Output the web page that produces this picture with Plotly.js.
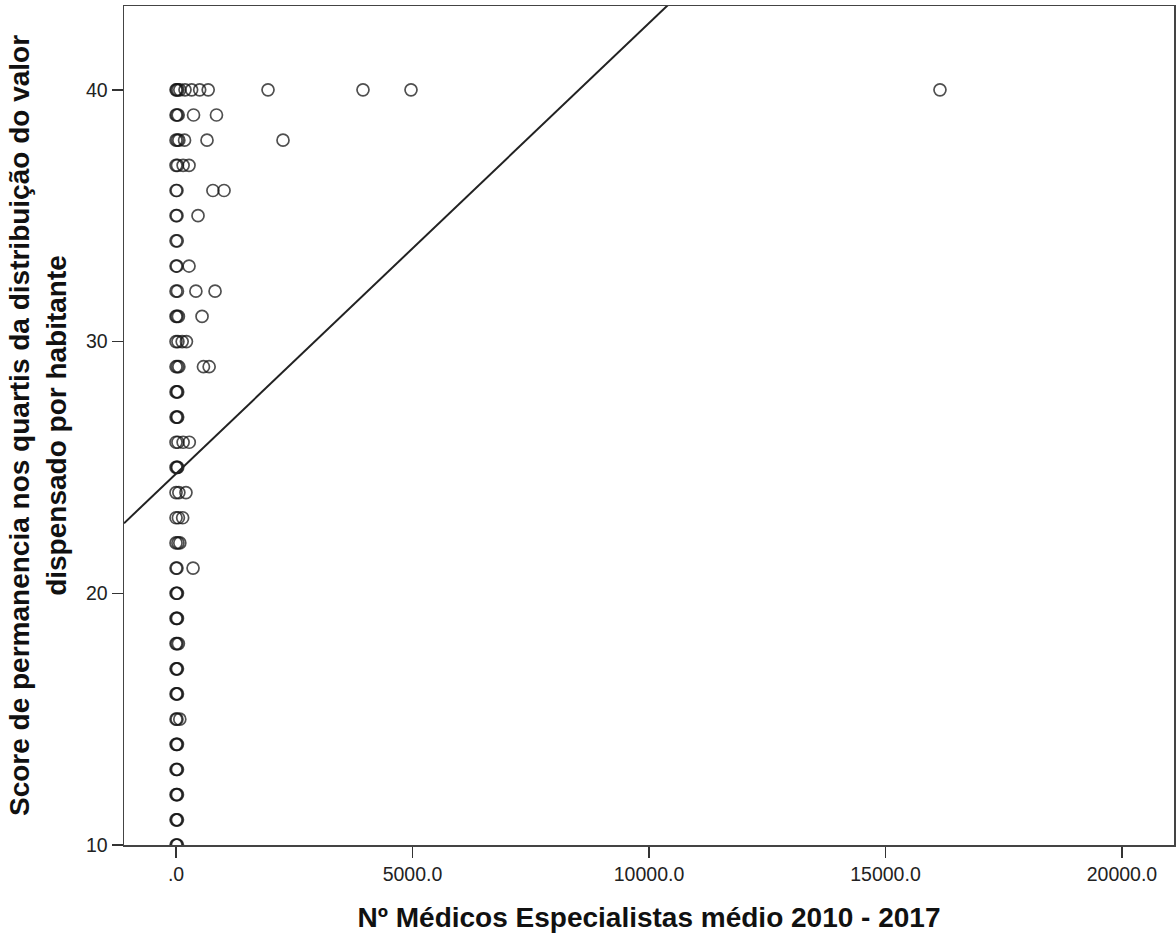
<!DOCTYPE html>
<html>
<head>
<meta charset="utf-8">
<script src="https://cdn.plot.ly/plotly-3.0.1.min.js"></script>
<style>html,body{margin:0;padding:0;background:#fff;}#chart{width:1176px;height:935px;}</style>
</head>
<body>
<div id="chart"></div>
<script>
// Nº Médicos Especialistas médio 2010 - 2017 (x) vs score (y)
const medicos = [
  // 40
  0, 15, 40, 80, 190, 330, 500, 680, 1945, 3953, 4968, 16152,
  // 39
  0, 20, 45, 370, 855,
  // 38
  0, 30, 60, 180, 655, 2262,
  // 37
  0, 30, 150, 275,
  // 36
  0, 20, 780, 1015,
  // 35
  0, 20, 465,
  // 34
  0, 25,
  // 33
  0, 20, 275,
  // 32
  0, 30, 420, 825,
  // 31
  0, 20, 50, 550,
  // 30
  0, 40, 130, 220,
  // 29
  0, 30, 60, 580, 700,
  // 28
  0, 20, 35,
  // 27
  0, 20, 35,
  // 26
  0, 40, 150, 280,
  // 25
  0, 20, 35,
  // 24
  0, 60, 210,
  // 23
  0, 50, 140,
  // 22
  0, 40, 80,
  // 21
  0, 20, 360,
  // 20 .. 10
  0, 15, 30,
  0, 15, 30,
  0, 20, 50,
  0, 15, 30,
  0, 15, 30,
  0, 20, 80,
  0, 15, 30,
  0, 15, 30,
  0, 15, 30,
  0, 15, 30,
  0, 15, 30
];
const score = [
  40,40,40,40,40,40,40,40,40,40,40,40,
  39,39,39,39,39,
  38,38,38,38,38,38,
  37,37,37,37,
  36,36,36,36,
  35,35,35,
  34,34,
  33,33,33,
  32,32,32,32,
  31,31,31,31,
  30,30,30,30,
  29,29,29,29,29,
  28,28,28,
  27,27,27,
  26,26,26,26,
  25,25,25,
  24,24,24,
  23,23,23,
  22,22,22,
  21,21,21,
  20,20,20,
  19,19,19,
  18,18,18,
  17,17,17,
  16,16,16,
  15,15,15,
  14,14,14,
  13,13,13,
  12,12,12,
  11,11,11,
  10,10,10
];
// Linear fit line (intercept, slope)
const fitIntercept = 24.75;
const fitSlope = 0.00179;
const xRange = [-1100, 21100];
const yRange = [10, 43.33];
const xTickVals = [0, 5000, 10000, 15000, 20000];
const xTickText = ['.0', '5000.0', '10000.0', '15000.0', '20000.0'];
const yTickVals = [10, 20, 30, 40];

const lineX = xRange.slice();
const lineY = lineX.map(x => fitIntercept + fitSlope * x);

const traces = [
  {
    type: 'scatter', mode: 'markers', x: medicos, y: score,
    marker: {symbol: 'circle-open', size: 12, color: 'rgba(20,20,20,0.75)', line: {width: 1.7}},
    hoverinfo: 'x+y', showlegend: false
  },
  {
    type: 'scatter', mode: 'lines', x: lineX, y: lineY,
    line: {color: '#222', width: 2}, hoverinfo: 'skip', showlegend: false
  }
];

const axisFont = {family: 'Liberation Sans, Arial, sans-serif', size: 19.5, color: '#222'};
const titleFont = {family: 'Liberation Sans, Arial, sans-serif', size: 28, color: '#111', weight: 'bold'};

const layout = {
  width: 1176, height: 935,
  margin: {l: 124, r: 2, t: 6, b: 90, pad: 0},
  paper_bgcolor: '#fff', plot_bgcolor: '#fff',
  showlegend: false,
  xaxis: {
    range: xRange, tickvals: xTickVals, ticktext: xTickText,
    ticks: 'outside', ticklen: 11, tickwidth: 1.5, tickcolor: '#333',
    showline: true, linecolor: '#444', linewidth: 1.5, mirror: true,
    showgrid: false, zeroline: false, tickfont: axisFont,
    title: {text: '<b>Nº Médicos Especialistas médio 2010 - 2017</b>', font: titleFont, standoff: 23}
  },
  yaxis: {
    range: yRange, tickvals: yTickVals,
    ticks: 'outside', ticklen: 11, tickwidth: 1.5, tickcolor: '#333',
    showline: true, linecolor: '#444', linewidth: 1.5, mirror: true,
    showgrid: false, zeroline: false, tickfont: axisFont,
    title: {text: '<b>Score de permanencia nos quartis da distribuição do valor<br>dispensado por habitante</b>', font: titleFont, standoff: 11}
  }
};

Plotly.newPlot('chart', traces, layout, {displayModeBar: false, staticPlot: true});
</script>
</body>
</html>
